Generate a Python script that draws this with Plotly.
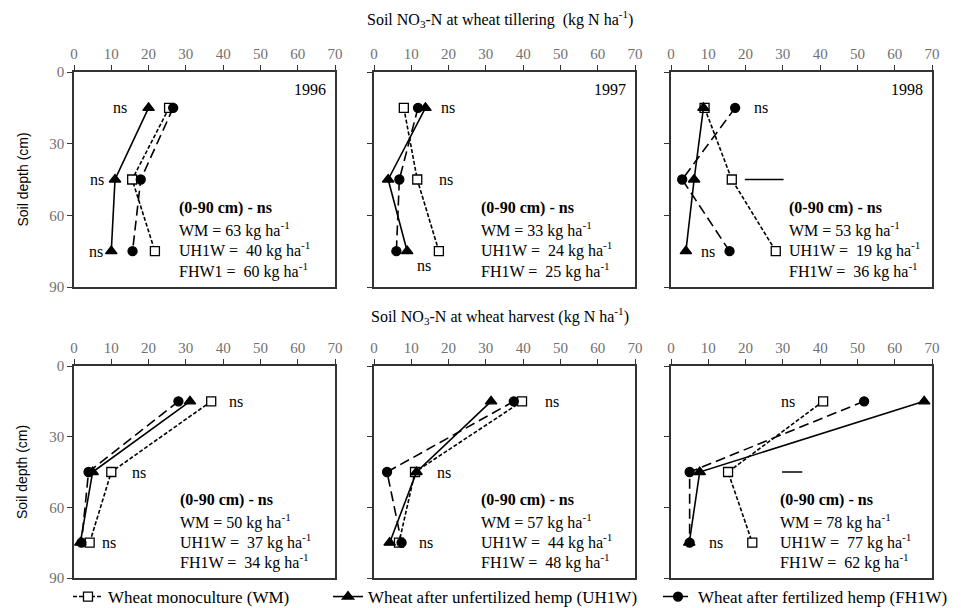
import plotly.graph_objects as go

# ---------------- data ----------------
depths = [15, 45, 75]
years = ["1996", "1997", "1998"]
series_names = ["Wheat monoculture (WM)",
                "Wheat after unfertilized hemp (UH1W)",
                "Wheat after fertilized hemp (FH1W)"]

# Soil NO3-N at wheat tillering (kg N/ha)
till_WM = {"1996": [25.5, 15.6, 21.7], "1997": [8.0, 11.6, 17.4], "1998": [9.0, 16.3, 28.1]}
till_UH1W = {"1996": [20.0, 11.0, 10.0], "1997": [13.8, 3.8, 8.9], "1998": [8.7, 6.2, 4.0]}
till_FH1W = {"1996": [26.6, 17.9, 15.7], "1997": [11.8, 6.8, 6.0], "1998": [17.2, 3.0, 15.7]}

# Soil NO3-N at wheat harvest (kg N/ha)
harv_WM = {"1996": [36.8, 10.0, 4.2], "1997": [39.7, 11.0, 6.7], "1998": [40.8, 15.3, 21.8]}
harv_UH1W = {"1996": [31.1, 5.0, 1.7], "1997": [31.4, 11.4, 4.2], "1998": [67.9, 7.7, 4.9]}
harv_FH1W = {"1996": [28.0, 3.9, 2.0], "1997": [37.5, 3.5, 7.4], "1998": [51.8, 5.0, 5.0]}

# 0-90 cm totals (kg/ha)
till_totals = {"1996": [63, 40, 60], "1997": [33, 24, 25], "1998": [53, 19, 36]}
harv_totals = {"1996": [50, 37, 34], "1997": [57, 44, 48], "1998": [78, 77, 62]}
till_total_labels = {"1996": ["WM", "UH1W", "FHW1"], "1997": ["WM", "UH1W", "FH1W"], "1998": ["WM", "UH1W", "FH1W"]}
harv_total_labels = {"1996": ["WM", "UH1W", "FH1W"], "1997": ["WM", "UH1W", "FH1W"], "1998": ["WM", "UH1W", "FH1W"]}

x_ticks = [0, 10, 20, 30, 40, 50, 60, 70]
y_ticks = [0, 30, 60, 90]

# significance labels per depth ("ns" or "—")
till_sig = {"1996": ["ns", "ns", "ns"], "1997": ["ns", "ns", "ns"], "1998": ["ns", "—", "ns"]}
harv_sig = {"1996": ["ns", "ns", "ns"], "1997": ["ns", "ns", "ns"], "1998": ["ns", "—", "ns"]}

# ---------------- layout / styles ----------------
OFF = 8                      # page body margin of the html page
W, H = 961 - OFF, 608 - OFF  # figure size so that it fills the window
SERIF = "Liberation Serif"
SANS = "Liberation Sans"
col_px = [(74, 335), (374, 635), (671, 932)]   # page pixel positions
row_px = [(72, 287), (366, 578)]

# sig label placement (x centre, y) per panel
till_sig_pos = {"1996": [(12.3, 15), (6.2, 45), (5.8, 75)],
                "1997": [(19.9, 15), (19.4, 45), (13.4, 81)],
                "1998": [(24.2, 15), (25.0, 45), (10.0, 75)]}
harv_sig_pos = {"1996": [(43.4, 15), (17.4, 45), (9.3, 75)],
                "1997": [(47.7, 15), (18.7, 45), (13.9, 75)],
                "1998": [(31.4, 15), (32.5, 45), (12.0, 75)]}
dash_half = {"1998_till": 5.2, "1998_harv": 2.7}
total_x = {"till": [27.5, 28.1, 31.0], "harv": [27.8, 28.2, 28.8]}
legend_widths = [215, 285, 260]

styles = [
    dict(symbol="square", size=9, dash="4px,2px", fill="white"),
    dict(symbol="triangle-up", size=10, dash="solid", fill="black"),
    dict(symbol="circle", size=9, dash="10px,5px", fill="black"),
]

fig = go.Figure()

def px2fx(p):
    return (p - OFF) / W

def px2fy(p):
    return 1 - (p - OFF) / H

for r, (stage, WMd, UHd, FHd, totals, tlabels, sig, sigpos) in enumerate([
        ("till", till_WM, till_UH1W, till_FH1W, till_totals, till_total_labels, till_sig, till_sig_pos),
        ("harv", harv_WM, harv_UH1W, harv_FH1W, harv_totals, harv_total_labels, harv_sig, harv_sig_pos)]):
    for c, yr in enumerate(years):
        idx = r * 3 + c + 1
        xa = "x" if idx == 1 else f"x{idx}"
        ya = "y" if idx == 1 else f"y{idx}"
        xkey = "xaxis" if idx == 1 else f"xaxis{idx}"
        ykey = "yaxis" if idx == 1 else f"yaxis{idx}"
        axis_line = dict(showline=True, linecolor="#333", linewidth=1.5, mirror=True,
                         ticks="outside", ticklen=5, tickwidth=1.2, tickcolor="#333",
                         showgrid=False, zeroline=False, automargin=False,
                         tickfont=dict(family=SERIF, size=15, color="#707070"))
        fig.update_layout({
            xkey: dict(domain=[px2fx(col_px[c][0]), px2fx(col_px[c][1])], anchor=ya,
                       side="top", range=[0, 70], tickvals=x_ticks, **axis_line),
            ykey: dict(domain=[px2fy(row_px[r][1]), px2fy(row_px[r][0])], anchor=xa,
                       range=[90, 0], tickvals=y_ticks, showticklabels=(c == 0), **axis_line),
        })
        for s, (name, data) in enumerate(zip(series_names, [WMd, UHd, FHd])):
            st = styles[s]
            fig.add_trace(go.Scatter(
                x=data[yr], y=depths, xaxis=xa, yaxis=ya, mode="lines+markers",
                name=name, legendgroup=name, showlegend=(idx == 1),
                legendwidth=legend_widths[s],
                line=dict(color="black", width=1.6, dash=st["dash"]),
                marker=dict(symbol=st["symbol"], size=st["size"], color=st["fill"],
                            line=dict(color="black", width=1.3)),
                cliponaxis=False))
        # year label
        if r == 0:
            fig.add_annotation(x=68, y=7.5, xref=xa, yref=ya, text=yr, showarrow=False,
                               xanchor="right", yanchor="middle",
                               font=dict(family=SERIF, size=16, color="black"))
        # totals block
        tx = total_x[stage][c]
        lines = ["<b>(0-90 cm) - ns</b>"] + [
            f"{lab} = {'' if k == 0 else ' '}{v} kg ha<sup>-1</sup>"
            for k, (lab, v) in enumerate(zip(tlabels[yr], totals[yr]))]
        for k, txt in enumerate(lines):
            fig.add_annotation(x=tx, y=[57, 66, 74.5, 83][k], xref=xa, yref=ya, text=txt,
                               showarrow=False, xanchor="left", yanchor="middle",
                               font=dict(family=SERIF, size=16, color="black"))
        # significance labels
        for k, lab in enumerate(sig[yr]):
            sx, sy = sigpos[yr][k]
            if lab == "—":
                hw = dash_half[f"{yr}_{stage}"]
                fig.add_shape(type="line", xref=xa, yref=ya, x0=sx - hw, x1=sx + hw, y0=sy, y1=sy,
                              line=dict(color="black", width=1.5))
            else:
                fig.add_annotation(x=sx, y=sy, xref=xa, yref=ya, text=lab, showarrow=False,
                                   xanchor="center", yanchor="middle",
                                   font=dict(family=SERIF, size=16, color="black"))

# titles
fig.add_annotation(x=px2fx(500), y=px2fy(19), xref="paper", yref="paper", showarrow=False,
                   xanchor="center", yanchor="middle",
                   text="Soil NO<sub>3</sub>-N at wheat tillering  (kg N ha<sup>-1</sup>)",
                   font=dict(family=SERIF, size=16, color="black"))
fig.add_annotation(x=px2fx(500), y=px2fy(316), xref="paper", yref="paper", showarrow=False,
                   xanchor="center", yanchor="middle",
                   text="Soil NO<sub>3</sub>-N at wheat harvest (kg N ha<sup>-1</sup>)",
                   font=dict(family=SERIF, size=16, color="black"))
for r in range(2):
    fig.add_annotation(x=px2fx(22), y=px2fy((row_px[r][0] + row_px[r][1]) / 2), xref="paper", yref="paper",
                       showarrow=False, textangle=-90, text="Soil depth (cm)",
                       xanchor="center", yanchor="middle",
                       font=dict(family=SANS, size=14, color="black"))

fig.update_layout(
    width=W, height=H, margin=dict(l=0, r=0, t=0, b=0, autoexpand=False),
    paper_bgcolor="white", plot_bgcolor="white",
    showlegend=True,
    legend=dict(orientation="h", x=px2fx(68), y=px2fy(597), xanchor="left", yanchor="middle",
                font=dict(family=SERIF, size=17, color="black"), itemwidth=30,
                bgcolor="rgba(0,0,0,0)", tracegroupgap=0),
)

fig.write_html("out.html")
